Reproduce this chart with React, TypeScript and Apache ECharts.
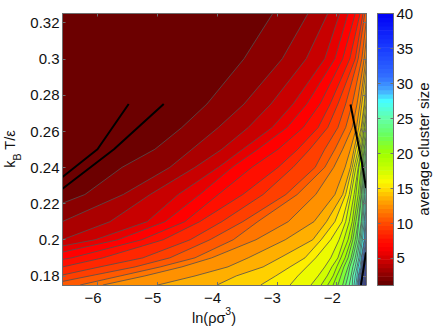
import React, { useEffect, useRef } from "react";
import * as echarts from "echarts";

// Temperatures at which every contour's ln(rho) position was read
const temperatures = [0.175, 0.18, 0.185, 0.19, 0.2, 0.21, 0.225, 0.24, 0.25, 0.262, 0.275, 0.3, 0.325];

const level2 = [-10.64, -10.14, -9.64, -8.97, -8.3, -7.38, -6.21, -5.59, -5.04, -4.59, -4.17, -3.55, -3.07];
const level3 = [-9.47, -8.97, -8.47, -7.96, -7.26, -6.59, -5.57, -4.79, -4.42, -3.98, -3.55, -2.91, -2.48];
const level4 = [-8.97, -8.47, -7.96, -7.4, -6.59, -5.79, -5.12, -4.37, -3.92, -3.48, -3.1, -2.51, -2.15];
const level5 = [-9.14, -8.63, -8.13, -7.63, -6.04, -5.17, -4.65, -3.98, -3.57, -3.08, -2.73, -2.2, -1.95];
const level6 = [-8.63, -8.13, -7.63, -7.01, -5.66, -4.87, -4.29, -3.75, -3.32, -2.83, -2.5, -2.03, -1.81];
const level7 = [-8.47, -7.88, -7.3, -6.43, -5.26, -4.54, -3.98, -3.42, -2.98, -2.56, -2.28, -1.9, -1.69];
const level8 = [-7.96, -7.26, -6.58, -5.91, -4.9, -4.29, -3.57, -2.98, -2.65, -2.31, -2.11, -1.78, -1.61];
const level9 = [-7.38, -6.66, -5.96, -5.24, -4.45, -3.92, -3.23, -2.73, -2.45, -2.15, -1.98, -1.69, -1.56];
const level10 = [-6.88, -6.13, -5.37, -4.79, -4.12, -3.57, -2.85, -2.36, -2.2, -1.98, -1.85, -1.64, -1.53];
const level11 = [-6.29, -5.62, -4.95, -4.37, -3.73, -3.32, -2.66, -2.2, -2.03, -1.85, -1.74, -1.58, -1.49];
const level12 = [-5.91, -5.21, -4.59, -4.09, -3.35, -2.81, -2.35, -2.05, -1.9, -1.74, -1.66, -1.54, -1.46];
const level13 = [-4.99, -4.37, -3.82, -3.48, -2.86, -2.38, -2.03, -1.86, -1.77, -1.67, -1.61, -1.51, -1.43];
const level14 = [-4.0, -3.68, -3.23, -2.95, -2.4, -2.17, -1.9, -1.77, -1.71, -1.63, -1.58, -1.49, -1.41];
const level15 = [-3.27, -3.02, -2.78, -2.53, -2.26, -2.03, -1.85, -1.74, -1.68, -1.59, -1.54, -1.48, -1.39];
const level16 = [-2.78, -2.65, -2.5, -2.35, -2.1, -1.91, -1.79, -1.71, -1.64, -1.58, -1.53, -1.46, -1.38];
const level17 = [-2.43, -2.31, -2.2, -2.1, -1.96, -1.85, -1.76, -1.68, -1.61, -1.56, -1.51, -1.44, -1.36];
const level18 = [-2.26, -2.16, -2.08, -1.98, -1.88, -1.79, -1.71, -1.64, -1.59, -1.54, -1.49, -1.43, -1.34];
const level19 = [-2.15, -2.06, -2.0, -1.93, -1.81, -1.74, -1.68, -1.63, -1.58, -1.53, -1.48, -1.41, -1.33];
const level20 = [-2.06, -2.0, -1.93, -1.86, -1.76, -1.71, -1.64, -1.59, -1.56, -1.51, -1.46, -1.39, -1.31];
const level21 = [-1.98, -1.93, -1.88, -1.81, -1.73, -1.68, -1.61, -1.58, -1.54, -1.49, -1.44, -1.38, -1.29];
const level22 = [-1.9, -1.86, -1.81, -1.76, -1.69, -1.64, -1.59, -1.56, -1.53, -1.48, -1.43, -1.36, -1.28];
const level23 = [-1.85, -1.81, -1.78, -1.73, -1.66, -1.63, -1.58, -1.54, -1.51, -1.46, -1.41, -1.34, -1.26];
const level24 = [-1.79, -1.76, -1.73, -1.69, -1.63, -1.59, -1.56, -1.53, -1.49, -1.44, -1.39, -1.33, -1.24];
const level25 = [-1.74, -1.73, -1.69, -1.66, -1.61, -1.58, -1.54, -1.51, -1.48, -1.43, -1.38, -1.31, -1.23];
const level26 = [-1.71, -1.69, -1.66, -1.63, -1.59, -1.56, -1.53, -1.49, -1.46, -1.41, -1.36, -1.29, -1.21];
const level27 = [-1.68, -1.66, -1.64, -1.61, -1.57, -1.54, -1.51, -1.48, -1.44, -1.39, -1.34, -1.28, -1.19];
const level28 = [-1.66, -1.64, -1.61, -1.59, -1.54, -1.53, -1.49, -1.46, -1.43, -1.38, -1.33, -1.26, -1.18];
const level29 = [-1.64, -1.63, -1.59, -1.58, -1.53, -1.51, -1.48, -1.44, -1.41, -1.36, -1.31, -1.24, -1.16];
const level30 = [-1.63, -1.61, -1.58, -1.56, -1.51, -1.49, -1.46, -1.43, -1.39, -1.34, -1.29, -1.23, -1.14];
const level31 = [-1.61, -1.59, -1.57, -1.54, -1.5, -1.48, -1.44, -1.41, -1.38, -1.33, -1.28, -1.21, -1.13];
const level32 = [-1.59, -1.58, -1.55, -1.53, -1.49, -1.46, -1.43, -1.39, -1.36, -1.31, -1.26, -1.19, -1.11];
const level33 = [-1.58, -1.56, -1.54, -1.51, -1.48, -1.44, -1.41, -1.38, -1.34, -1.29, -1.24, -1.18, -1.09];
const level34 = [-1.56, -1.54, -1.53, -1.49, -1.44, -1.42, -1.39, -1.36, -1.33, -1.28, -1.23, -1.16, -1.08];
const level35 = [-1.55, -1.53, -1.51, -1.48, -1.43, -1.4, -1.37, -1.34, -1.31, -1.26, -1.21, -1.14, -1.06];
const level36 = [-1.54, -1.51, -1.49, -1.46, -1.41, -1.38, -1.35, -1.32, -1.29, -1.24, -1.19, -1.12, -1.04];
const level37 = [-1.53, -1.5, -1.48, -1.44, -1.39, -1.36, -1.33, -1.3, -1.27, -1.22, -1.17, -1.1, -1.02];
const level38 = [-1.51, -1.49, -1.46, -1.43, -1.38, -1.34, -1.31, -1.28, -1.25, -1.2, -1.15, -1.08, -1.0];
const level39 = [-1.49, -1.47, -1.44, -1.41, -1.36, -1.32, -1.29, -1.26, -1.23, -1.18, -1.13, -1.06, -0.98];

const contours = [
  level2, level3, level4, level5, level6, level7, level8, level9, level10, level11,
  level12, level13, level14, level15, level16, level17, level18, level19, level20, level21,
  level22, level23, level24, level25, level26, level27, level28, level29, level30, level31,
  level32, level33, level34, level35, level36, level37, level38, level39,
];
const firstLevel = 2;

// Black boundary curves
const boundaryA = [[-6.585, 0.2347], [-6.0, 0.25], [-5.478, 0.275]];
const boundaryB = [[-6.585, 0.2282], [-5.724, 0.25], [-4.892, 0.275]];
const boundaryC = [[-1.769, 0.2747], [-1.577, 0.2424], [-1.51, 0.2286]];
const boundaryD = [[-1.51, 0.193], [-1.594, 0.175]];

// Colormap stops
const cmapValues = [1.13, 1.5, 2.5, 3.5, 4.5, 5.5, 6.5, 7.5, 10, 12.5, 14, 15, 16, 18, 20, 22.5, 25, 27.5, 29, 31, 35, 40];
const cmapRed = [96, 108, 138, 170, 200, 230, 255, 255, 255, 255, 255, 255, 250, 195, 160, 105, 100, 70, 70, 50, 25, 0];
const cmapGreen = [0, 0, 0, 0, 0, 0, 0, 15, 75, 145, 190, 225, 250, 255, 255, 255, 255, 255, 170, 110, 60, 0];
const cmapBlue = [0, 0, 0, 0, 0, 0, 0, 0, 0, 0, 0, 0, 0, 0, 0, 90, 170, 255, 255, 255, 255, 245];

const xTicks = [-6, -5, -4, -3, -2];
const yTicks = [0.18, 0.2, 0.22, 0.24, 0.26, 0.28, 0.3, 0.32];
const barTicks = [5, 10, 15, 20, 25, 30, 35, 40];
const xMin = -6.585, xMax = -1.51, yMin = 0.175, yMax = 0.325;
const barMin = 1.13, barMax = 40, barSteps = 64;

const FONT = "'Liberation Sans', Arial, sans-serif";
const AXIS = "#6e6e6e";

function cmap(v: number): string {
  let i = 0;
  while (i < cmapValues.length - 2 && v > cmapValues[i + 1]) i++;
  const t = Math.min(1, Math.max(0, (v - cmapValues[i]) / (cmapValues[i + 1] - cmapValues[i])));
  const c = (a: number[]) => Math.round(a[i] + (a[i + 1] - a[i]) * t);
  return `rgb(${c(cmapRed)},${c(cmapGreen)},${c(cmapBlue)})`;
}

export default function App() {
  const ref = useRef<HTMLDivElement>(null);
  useEffect(() => {
    document.body.style.margin = "0";
    const chart = echarts.init(ref.current!, null, { renderer: "svg" });
    const axisCommon = {
      axisLine: { show: true, onZero: false, lineStyle: { color: AXIS, width: 1 } },
      splitLine: { show: false },
      z: 10,
    };
    const mainX = (position: string, labels: boolean) => ({
      ...axisCommon, type: "value", gridIndex: 0, position, min: xMin, max: xMax,
      axisTick: { show: true, inside: true, length: 3, customValues: xTicks, lineStyle: { color: AXIS } },
      axisLabel: {
        show: labels, customValues: xTicks, margin: 5, fontFamily: FONT, fontSize: 15, color: "#111",
        padding: [0, 9, 0, 0],
        formatter: (v: number) => String(v).replace("-", "\u2212"),
      },
    });
    const mainY = (position: string, labels: boolean) => ({
      ...axisCommon, type: "value", gridIndex: 0, position, min: yMin, max: yMax,
      axisTick: { show: true, inside: true, length: 3, customValues: yTicks, lineStyle: { color: AXIS } },
      axisLabel: {
        show: labels, customValues: yTicks, margin: 3, fontFamily: FONT, fontSize: 15, color: "#111",
        formatter: (v: number) => String(v),
      },
    });
    const barX = (position: string) => ({
      ...axisCommon, type: "value", gridIndex: 1, position, min: 0, max: 1,
      axisTick: { show: false }, axisLabel: { show: false },
    });
    const barY = (position: string, labels: boolean) => ({
      ...axisCommon, type: "value", gridIndex: 1, position, min: barMin, max: barMax,
      axisTick: { show: true, inside: true, length: 3, customValues: barTicks, lineStyle: { color: AXIS } },
      axisLabel: {
        show: labels, customValues: barTicks, margin: 3, fontFamily: FONT, fontSize: 15, color: "#111",
        formatter: (v: number) => String(v),
      },
    });
    const boundary = (data: number[][]) => ({
      type: "line", xAxisIndex: 0, yAxisIndex: 0, data, symbol: "none", clip: true, z: 6,
      lineStyle: { color: "#000", width: 2 }, silent: true,
    });
    const binWidth = (barMax - barMin) / barSteps;

    chart.setOption({
      animation: false,
      backgroundColor: "#fff",
      grid: [
        { left: 62.5, top: 13.5, width: 303.5, height: 271.5, containLabel: false },
        { left: 377.5, top: 13.5, width: 16, height: 271.5, containLabel: false },
      ],
      xAxis: [mainX("bottom", true), mainX("top", false), barX("bottom"), barX("top")],
      yAxis: [mainY("left", true), mainY("right", false), barY("right", true), barY("left", false)],
      series: [
        {
          type: "custom", xAxisIndex: 0, yAxisIndex: 0, clip: true, z: 2, silent: true,
          data: [[xMin, yMin]],
          renderItem: (_p: any, api: any) => {
            const a = api.coord([xMin, yMax]);
            const b = api.coord([xMax, yMin]);
            return {
              type: "rect",
              shape: { x: a[0], y: a[1], width: b[0] - a[0], height: b[1] - a[1] },
              style: { fill: cmap(firstLevel - 0.5) },
            };
          },
        },
        {
          type: "custom", xAxisIndex: 0, yAxisIndex: 0, clip: true, z: 3, silent: true,
          data: contours.map((c, i) => [c[0], firstLevel + i]),
          renderItem: (p: any, api: any) => {
            const c = contours[p.dataIndex];
            const line = c.map((x, i) => api.coord([x, temperatures[i]]));
            const far = api.coord([xMax + 1, yMax]);
            const farLow = api.coord([xMax + 1, yMin]);
            return {
              type: "group",
              children: [
                {
                  type: "polygon",
                  shape: { points: [...line, far, farLow] },
                  style: { fill: cmap(firstLevel + p.dataIndex + 0.5), stroke: "none" },
                },
                {
                  type: "polyline",
                  shape: { points: line },
                  style: { fill: "none", stroke: "#505050", lineWidth: 0.8 },
                },
              ],
            };
          },
        },
        boundary(boundaryA),
        boundary(boundaryB),
        boundary(boundaryC),
        boundary(boundaryD),
        {
          type: "custom", xAxisIndex: 2, yAxisIndex: 2, clip: true, z: 2, silent: true,
          data: Array.from({ length: barSteps }, (_, i) => [0, barMin + i * binWidth]),
          renderItem: (p: any, api: any) => {
            const lo = barMin + p.dataIndex * binWidth;
            const a = api.coord([0, lo + binWidth]);
            const b = api.coord([1, lo]);
            return {
              type: "rect",
              shape: { x: a[0], y: a[1] - 0.3, width: b[0] - a[0], height: b[1] - a[1] + 0.6 },
              style: { fill: cmap(lo + binWidth / 2) },
            };
          },
        },
      ],
      graphic: [
        {
          type: "text", x: 214, y: 315.5, silent: true,
          style: {
            text: "{a|ln(ρσ}{s|3}{a|)}", align: "center", verticalAlign: "middle", fill: "#111",
            rich: {
              a: { fontFamily: FONT, fontSize: 14.5, fill: "#111", lineHeight: 20, verticalAlign: "bottom" },
              s: { fontFamily: FONT, fontSize: 10.5, fill: "#111", lineHeight: 20, verticalAlign: "top" },
            },
          },
        },
        {
          type: "text", x: 12, y: 149, rotation: Math.PI / 2, silent: true,
          style: {
            text: "{a|k}{s|B}{a| T/ε}", align: "center", verticalAlign: "middle", fill: "#111",
            rich: {
              a: { fontFamily: FONT, fontSize: 14.5, fill: "#111", lineHeight: 20, verticalAlign: "top" },
              s: { fontFamily: FONT, fontSize: 10.5, fill: "#111", lineHeight: 20, verticalAlign: "bottom" },
            },
          },
        },
        {
          type: "text", x: 423, y: 149, rotation: Math.PI / 2, silent: true,
          style: {
            text: "average cluster size", align: "center", verticalAlign: "middle",
            fontFamily: FONT, fontSize: 15, fill: "#111",
          },
        },
      ],
    });
    return () => chart.dispose();
  }, []);
  return <div ref={ref} style={{ position: "absolute", left: 0, top: 0, width: 436, height: 326 }} />;
}
